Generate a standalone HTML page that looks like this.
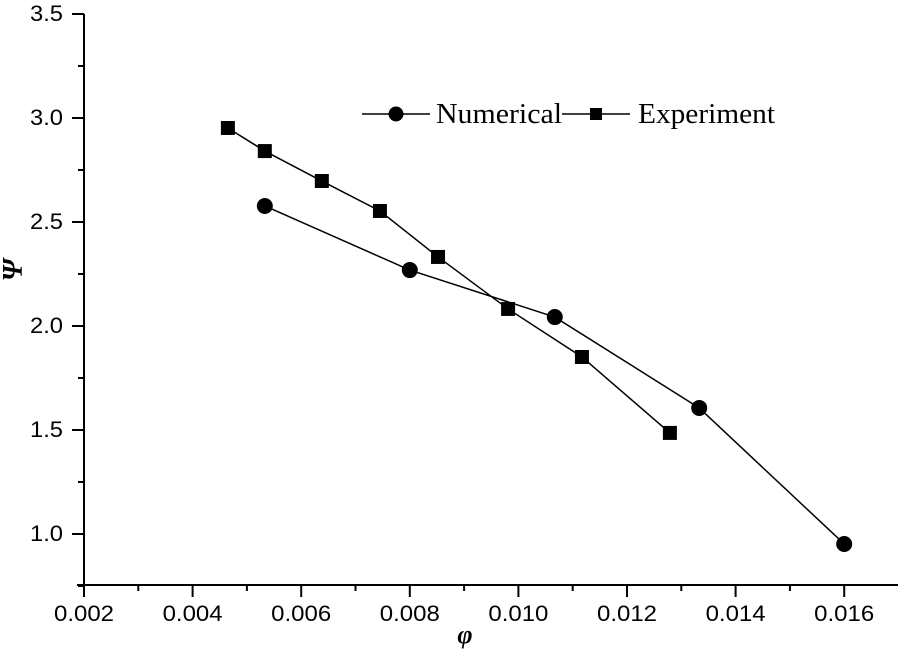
<!DOCTYPE html>
<html><head><meta charset="utf-8"><style>
html,body{margin:0;padding:0;background:#fff;}
svg{display:block;}
.tk{font-family:"Liberation Sans",sans-serif;font-size:22px;fill:#000;}
.lg{font-family:"Liberation Serif",serif;font-size:28px;fill:#000;}
</style></head><body>
<svg id="chart" width="898" height="649">
<g id="axes"></g><g id="series"></g>
<g>
<line x1="362" y1="114" x2="430" y2="114" stroke="#000" stroke-width="1.5"/>
<circle cx="396" cy="114" r="7.5" fill="#000"/>
<text class="lg" x="436" y="123" textLength="126" lengthAdjust="spacingAndGlyphs">Numerical</text>
<line x1="562" y1="114" x2="630" y2="114" stroke="#000" stroke-width="1.5"/>
<rect x="590" y="108" width="12" height="12" fill="#000"/>
<text class="lg" x="638" y="123" textLength="137" lengthAdjust="spacingAndGlyphs">Experiment</text>
</g>
<text x="465" y="643" font-family="Liberation Serif,serif" font-style="italic" font-weight="bold" font-size="26" text-anchor="middle">φ</text>
<text transform="translate(22,270) rotate(-90)" font-family="Liberation Serif,serif" font-style="italic" font-weight="bold" font-size="28" text-anchor="middle">Ψ</text>
</svg>
<script>
const xTicks=[0.002,0.004,0.006,0.008,0.010,0.012,0.014,0.016];
const xTickLabels=["0.002","0.004","0.006","0.008","0.010","0.012","0.014","0.016"];
const yTicks=[1.0,1.5,2.0,2.5,3.0,3.5];
const yTickLabels=["1.0","1.5","2.0","2.5","3.0","3.5"];
const numX=[0.00533,0.0080,0.01067,0.01333,0.0160];
const numY=[2.577,2.269,2.043,1.606,0.952];
const expX=[0.00465,0.00533,0.00638,0.00745,0.00852,0.00981,0.01117,0.01279];
const expY=[2.952,2.841,2.697,2.553,2.332,2.082,1.851,1.486];

const NS="http://www.w3.org/2000/svg";
function X(v){return 84+(v-0.002)/0.002*108.6;}
function Y(v){return 118-(v-3.0)*208;}
function mk(tag,attrs,parent){const e=document.createElementNS(NS,tag);for(const k in attrs)e.setAttribute(k,attrs[k]);parent.appendChild(e);return e;}
const axes=document.getElementById('axes'),series=document.getElementById('series');
let a=mk('line',{x1:84,y1:14,x2:84,y2:586,stroke:'#000','stroke-width':2},axes);


a=mk('line',{x1:77,y1:585,x2:898,y2:585,stroke:'#000','stroke-width':2},axes);


for(let i=0;i<xTicks.length;i++){
  const x=X(xTicks[i]);
  mk('line',{x1:x,y1:585,x2:x,y2:597,stroke:'#000','stroke-width':2},axes);
  const mx=X(xTicks[i]+0.001);
  if(mx<=898)mk('line',{x1:mx,y1:585,x2:mx,y2:591,stroke:'#000','stroke-width':2},axes);
  const t=mk('text',{x:x-30,y:621,class:'tk',textLength:60,lengthAdjust:'spacingAndGlyphs'},axes);
  t.textContent=xTickLabels[i];
  
  
}
for(let i=0;i<yTicks.length;i++){
  const y=Y(yTicks[i]);
  mk('line',{x1:72,y1:y,x2:84,y2:y,stroke:'#000','stroke-width':2},axes);
  if(yTicks[i]+0.25<=3.5){const my=Y(yTicks[i]+0.25);mk('line',{x1:78,y1:my,x2:84,y2:my,stroke:'#000','stroke-width':2},axes);}
  const t=mk('text',{x:30,y:y+7,class:'tk',textLength:33,lengthAdjust:'spacingAndGlyphs'},axes);
  t.textContent=yTickLabels[i];
  
  
}
mk('line',{x1:78,y1:Y(0.75),x2:84,y2:Y(0.75),stroke:'#000','stroke-width':2},axes);
let p=mk('polyline',{points:numX.map((v,i)=>X(v)+','+Y(numY[i])).join(' '),fill:'none',stroke:'#000','stroke-width':1.5},series);


p=mk('polyline',{points:expX.map((v,i)=>X(v)+','+Y(expY[i])).join(' '),fill:'none',stroke:'#000','stroke-width':1.5},series);


numX.forEach((v,i)=>{
  const c=mk('circle',{cx:X(v),cy:Y(numY[i]),r:8,fill:'#000'},series);
  
  
});
expX.forEach((v,i)=>{
  const r=mk('rect',{x:X(v)-7,y:Y(expY[i])-7,width:14,height:14,fill:'#000'},series);
  
  
});
</script>
</body></html>
